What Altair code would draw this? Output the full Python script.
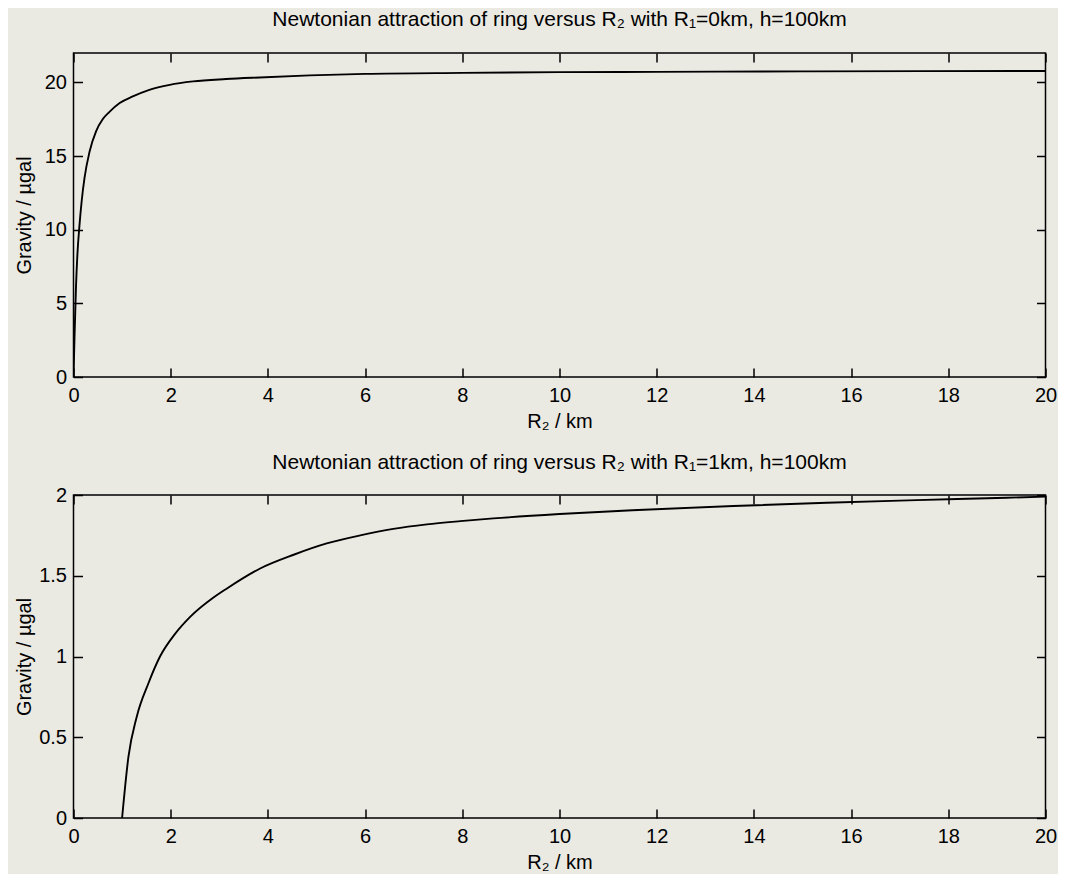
import altair as alt
import pandas as pd

# ---- data ----
r2_top = [0.0, 0.02, 0.05, 0.08, 0.123, 0.17, 0.226, 0.33, 0.466, 0.60, 0.74,
          0.95, 1.22, 1.56, 1.98, 2.46, 3.14, 3.83, 4.86, 6.0, 8.0, 10.0,
          12.0, 15.0, 17.5, 20.0]
g_top = [0.0, 2.6, 6.0, 8.3, 10.3, 12.0, 13.5, 15.3, 16.7, 17.5, 18.0,
         18.6, 19.05, 19.5, 19.84, 20.07, 20.23, 20.34, 20.48, 20.58, 20.65,
         20.7, 20.72, 20.75, 20.77, 20.78]

r2_bot = [1.0, 1.13, 1.3, 1.54, 1.78, 2.09, 2.4, 2.88, 3.15, 3.84, 4.53,
          5.21, 5.9, 6.58, 7.27, 7.96, 8.64, 10.0, 11.5, 13.58, 15.5, 17.35,
          19.2, 20.0]
g_bot = [0.0, 0.378, 0.626, 0.833, 1.0, 1.14, 1.245, 1.365, 1.42, 1.545, 1.63,
         1.70, 1.75, 1.79, 1.818, 1.838, 1.855, 1.882, 1.906, 1.932, 1.952,
         1.968, 1.983, 1.99]

x_ticks = [0, 2, 4, 6, 8, 10, 12, 14, 16, 18, 20]
y_ticks_top = [0, 5, 10, 15, 20]
y_ticks_bot = [0, 0.5, 1, 1.5, 2]

title_top = "Newtonian attraction of ring versus R₂ with R₁=0km, h=100km"
title_bot = "Newtonian attraction of ring versus R₂ with R₁=1km, h=100km"
x_title = "R₂ / km"
y_title = "Gravity / µgal"

FONT = "Liberation Sans"
BG = "#eae9e2"
W = 972
TICK = 9


def panel(xv, yv, ymax, yticks, title, h, t_off):
    df = pd.DataFrame({"R2": xv, "g": yv})
    xs = alt.Scale(domain=[0, 20], nice=False, zero=False)
    ys = alt.Scale(domain=[0, ymax], nice=False)
    common = dict(offset=-TICK, tickSize=TICK, domain=False, grid=False,
                  tickColor="black", tickWidth=1.5, labelColor="black",
                  labelFont=FONT, labelFontSize=20, titleFont=FONT,
                  titleFontSize=20, titleFontWeight="normal", titleColor="black")
    main = alt.Chart(df).mark_line(color="black", strokeWidth=1.9, clip=True,
                                   interpolate="monotone").encode(
        x=alt.X("R2:Q", scale=xs,
                axis=alt.Axis(orient="bottom", values=x_ticks, title=x_title,
                              labelPadding=8, titleBaseline="alphabetic",
                              titleX=W / 2, titleY=59.5, titleAlign="center",
                              labelFlush=False, **common)),
        y=alt.Y("g:Q", scale=ys,
                axis=alt.Axis(orient="left", values=yticks, title=y_title,
                              format="~g", labelPadding=7,
                              titleBaseline="alphabetic", titleX=-52.5,
                              titleY=h / 2, titleAlign="center", titleAngle=270,
                              labelFlush=False, **common)),
    )
    mirror = alt.Chart(df).mark_line(color="black", strokeOpacity=0).encode(
        x=alt.X("R2:Q", scale=xs,
                axis=alt.Axis(orient="top", values=x_ticks, labels=False,
                              title="", **common)),
        y=alt.Y("g:Q", scale=ys,
                axis=alt.Axis(orient="right", values=yticks, labels=False,
                              title="", **common)),
    )
    return alt.layer(main, mirror).resolve_axis(
        x="independent", y="independent"
    ).properties(
        width=W, height=h,
        title=alt.TitleParams(title, font=FONT, fontSize=21, fontWeight="normal",
                              color="black", baseline="alphabetic", offset=t_off,
                              anchor="middle"),
    )


top = panel(r2_top, g_top, 22, y_ticks_top, title_top, 324, 5.5)
bot = panel(r2_bot, g_bot, 2, y_ticks_bot, title_bot, 323, -4.5)

chart = alt.vconcat(top, bot, spacing=17).properties(
    background=BG,
    padding={"left": 4.5, "top": 0, "right": 0, "bottom": 0},
).configure_view(stroke="black", strokeWidth=1.5, fill=BG)

chart.save("out.html", embed_options={"renderer": "svg", "actions": False})
